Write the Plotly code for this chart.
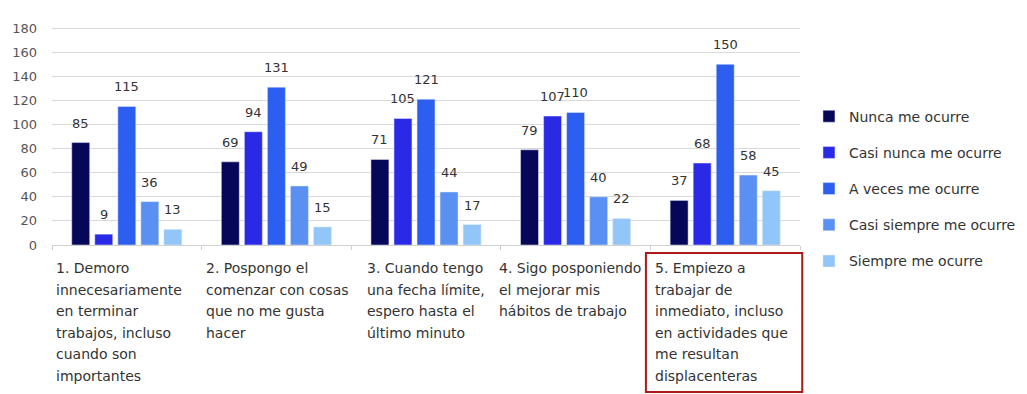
import plotly.graph_objects as go

# Survey responses per statement
categories = [
    "1. Demoro innecesariamente en terminar trabajos, incluso cuando son importantes",
    "2. Pospongo el comenzar con cosas que no me gusta hacer",
    "3. Cuando tengo una fecha límite, espero hasta el último minuto",
    "4. Sigo posponiendo el mejorar mis hábitos de trabajo",
    "5. Empiezo a trabajar de inmediato, incluso en actividades que me resultan displacenteras",
]
category_lines = [
    ["1. Demoro", "innecesariamente", "en terminar", "trabajos, incluso", "cuando son", "importantes"],
    ["2. Pospongo el", "comenzar con cosas", "que no me gusta", "hacer"],
    ["3. Cuando tengo", "una fecha límite,", "espero hasta el", "último minuto"],
    ["4. Sigo posponiendo", "el mejorar mis", "hábitos de trabajo"],
    ["5. Empiezo a", "trabajar de", "inmediato, incluso", "en actividades que", "me resultan", "displacenteras"],
]
series_names = [
    "Nunca me ocurre",
    "Casi nunca me ocurre",
    "A veces me ocurre",
    "Casi siempre me ocurre",
    "Siempre me ocurre",
]
nunca = [85, 69, 71, 79, 37]
casi_nunca = [9, 94, 105, 107, 68]
a_veces = [115, 131, 121, 110, 150]
casi_siempre = [36, 49, 44, 40, 58]
siempre = [13, 15, 17, 22, 45]
series_values = [nunca, casi_nunca, a_veces, casi_siempre, siempre]

colors = ["#07075a", "#2a2ae6", "#2c5ef0", "#5a90f2", "#92c6f8"]
font_family = "'DejaVu Sans', sans-serif"
text_color = "#333333"

BARGAP = 0.23
BARGROUPGAP = 0.22
n_series = len(series_names)
slot = (1 - BARGAP) / n_series

fig = go.Figure()
for j, (name, vals, col) in enumerate(zip(series_names, series_values, colors)):
    fig.add_trace(go.Bar(
        x=categories, y=vals, name=name, marker_color=col,
        legendgroup=name, hoverinfo="y+name",
    ))

annotations = []
# value labels over each bar
for j, vals in enumerate(series_values):
    for i, v in enumerate(vals):
        annotations.append(dict(
            x=i + (j - (n_series - 1) / 2) * slot, y=v, xref="x", yref="y",
            text=str(v), showarrow=False, yanchor="bottom", yshift=10,
            font=dict(family=font_family, size=13, color=text_color),
        ))

# multi-line category labels, left aligned under each group
label_shift = [2, 2, 14, -4, 3]
for i, lines in enumerate(category_lines):
    for k, line in enumerate(lines):
        annotations.append(dict(
            x=i - 0.5, y=0, xref="x", yref="paper",
            text=line, showarrow=False, xanchor="left", yanchor="middle",
            xshift=label_shift[i], yshift=-(23 + 21.6 * k),
            font=dict(family=font_family, size=14, color=text_color),
        ))

fig.update_layout(
    width=1027, height=394,
    margin=dict(l=52, r=227, t=4, b=149),
    paper_bgcolor="white", plot_bgcolor="white",
    barmode="group", bargap=BARGAP, bargroupgap=BARGROUPGAP,
    font=dict(family=font_family, color=text_color),
    showlegend=True,
    legend=dict(
        x=1.012, y=0.234, xanchor="left", yanchor="middle",
        font=dict(family=font_family, size=14, color=text_color),
        tracegroupgap=15, itemwidth=30,
    ),
    annotations=annotations,
    shapes=[dict(
        type="rect", xref="paper", yref="paper",
        x0=0.794, x1=1.003, y0=-0.033, y1=-0.61,
        line=dict(color="#b01818", width=2), fillcolor="rgba(0,0,0,0)",
    )],
)
fig.update_xaxes(
    type="category", showticklabels=False, showgrid=False,
    showline=True, linecolor="#d0d0d0", linewidth=1,
    ticks="outside", tickson="boundaries", ticklen=4, tickcolor="#d0d0d0",
)
fig.update_yaxes(
    range=[0, 200], dtick=20, showgrid=True, gridcolor="#d9d9d9", gridwidth=1,
    zeroline=False, showline=False, ticks="",
    tickfont=dict(family=font_family, size=13, color="#555555"),
    ticklabelstandoff=14,
)

fig.write_html("out.html")
